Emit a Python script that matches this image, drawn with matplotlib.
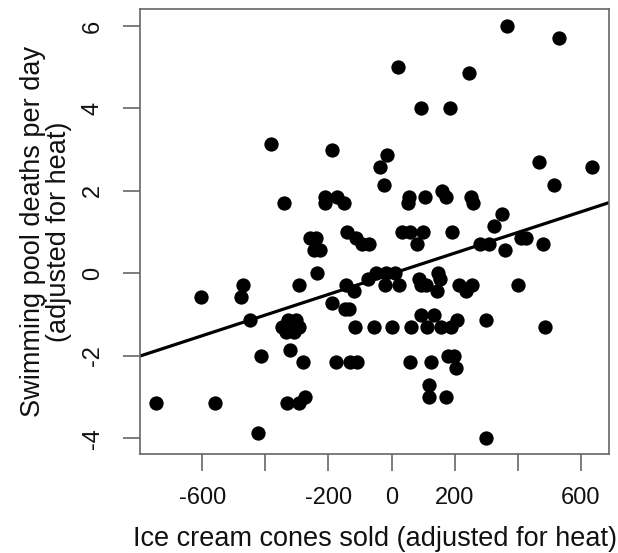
import matplotlib
matplotlib.use("Agg")
import matplotlib.pyplot as plt

plt.rcParams['font.family'] = ['Liberation Sans', 'DejaVu Sans']

# ------------------------------------------------------------------
# Data
# ------------------------------------------------------------------
cones = [
    -746, -603, -559, -476, -470, -450, -425, -415, -381, -340,
    -333, -293, -273, -346, -328, -303, -293, -308, -335, -321,
    -282, -292, -258, -239, -247, -226, -237, -212, -212, -189,
    -173, -152, -142, -114, -94, -72, -189, -149, -134, -144,
    -120, -75, -48, -16, 10, -177, -133, -110, -116, -55,
    -22, 25, -35, -14, -25, 20, 94, 184, 245, 365,
    532, 468, 637, 516, 57, 52, 105, 161, 174, 251,
    259, 351, 325, 33, 58, 101, 191, 82, 280, 309,
    360, 412, 428, 482, 87, 94, 110, 145, 149, 154,
    215, 235, 256, 402, 0, 63, 92, 114, 135, 157,
    189, 209, 299, 487, 60, 126, 180, 198, 204, 119,
    119, 174, 299,
]
deaths = [
    -3.14, -0.57, -3.14, -0.57, -0.29, -1.14, -3.86, -2.00, 3.14, 1.71,
    -3.14, -3.14, -3.00, -1.29, -1.14, -1.14, -1.29, -1.43, -1.43, -1.86,
    -2.14, -0.29, 0.86, 0.86, 0.57, 0.57, 0.00, 1.86, 1.71, 3.00,
    1.86, 1.71, 1.00, 0.86, 0.71, 0.71, -0.71, -0.86, -0.86, -0.29,
    -0.43, -0.14, 0.00, 0.00, 0.00, -2.14, -2.14, -2.14, -1.29, -1.29,
    -0.29, -0.29, 2.57, 2.86, 2.14, 5.00, 4.00, 4.00, 4.86, 6.00,
    5.71, 2.71, 2.57, 2.14, 1.86, 1.71, 1.86, 2.00, 1.86, 1.86,
    1.71, 1.43, 1.14, 1.00, 1.00, 1.00, 1.00, 0.71, 0.71, 0.71,
    0.57, 0.86, 0.86, 0.71, -0.14, -0.29, -0.29, -0.43, 0.00, -0.14,
    -0.29, -0.43, -0.29, -0.29, -1.29, -1.29, -1.00, -1.29, -1.00, -1.29,
    -1.29, -1.14, -1.14, -1.29, -2.14, -2.14, -2.00, -2.00, -2.29, -2.71,
    -3.00, -3.00, -4.00,
]

# fitted regression line (abline)
fit_intercept = -0.01
fit_slope = 0.0025

x_ticks = [-600, -400, -200, 0, 200, 400, 600]
x_tick_labels = ["-600", "", "-200", "0", "200", "", "600"]
y_ticks = [-4, -2, 0, 2, 4, 6]

x_label = "Ice cream cones sold (adjusted for heat)"
y_label = "Swimming pool deaths per day\n(adjusted for heat)"

# ------------------------------------------------------------------
# Plot
# ------------------------------------------------------------------
W, H = 618, 553
fig = plt.figure(figsize=(W / 100, H / 100), dpi=100)
ax = fig.add_axes([140 / W, 1 - 454 / H, 469.3 / W, 445 / H])

ax.plot(cones, deaths, 'o', color='black', markersize=10.3, markeredgewidth=0)
ax.axline((0, fit_intercept), slope=fit_slope, color='black', linewidth=2.3)

ax.set_xlim(-798, 691)
ax.set_ylim(-4.38, 6.41)

ax.set_xticks(x_ticks)
ax.set_xticklabels(x_tick_labels)
ax.set_yticks(y_ticks)
ax.set_yticklabels([str(v) for v in y_ticks], rotation=90, va='center')

for side in ax.spines.values():
    side.set_color('#666666')
    side.set_linewidth(1.2)
ax.tick_params(axis='both', colors='#666666', length=12, width=1.2,
               labelsize=17, labelcolor='#111111')
ax.tick_params(axis='x', pad=12)
ax.tick_params(axis='y', pad=14)

# axis titles placed like R's mtext lines
fig.text(375 / W, 1 - 546 / H, x_label, fontsize=19.5, color='#111111',
         ha='center', va='baseline')
fig.text(46.5 / W, 1 - 231.5 / H, y_label, fontsize=19.5, color='#111111',
         ha='center', va='center', rotation=90, multialignment='center',
         linespacing=1.0)

fig.savefig("out.png", dpi=100)
